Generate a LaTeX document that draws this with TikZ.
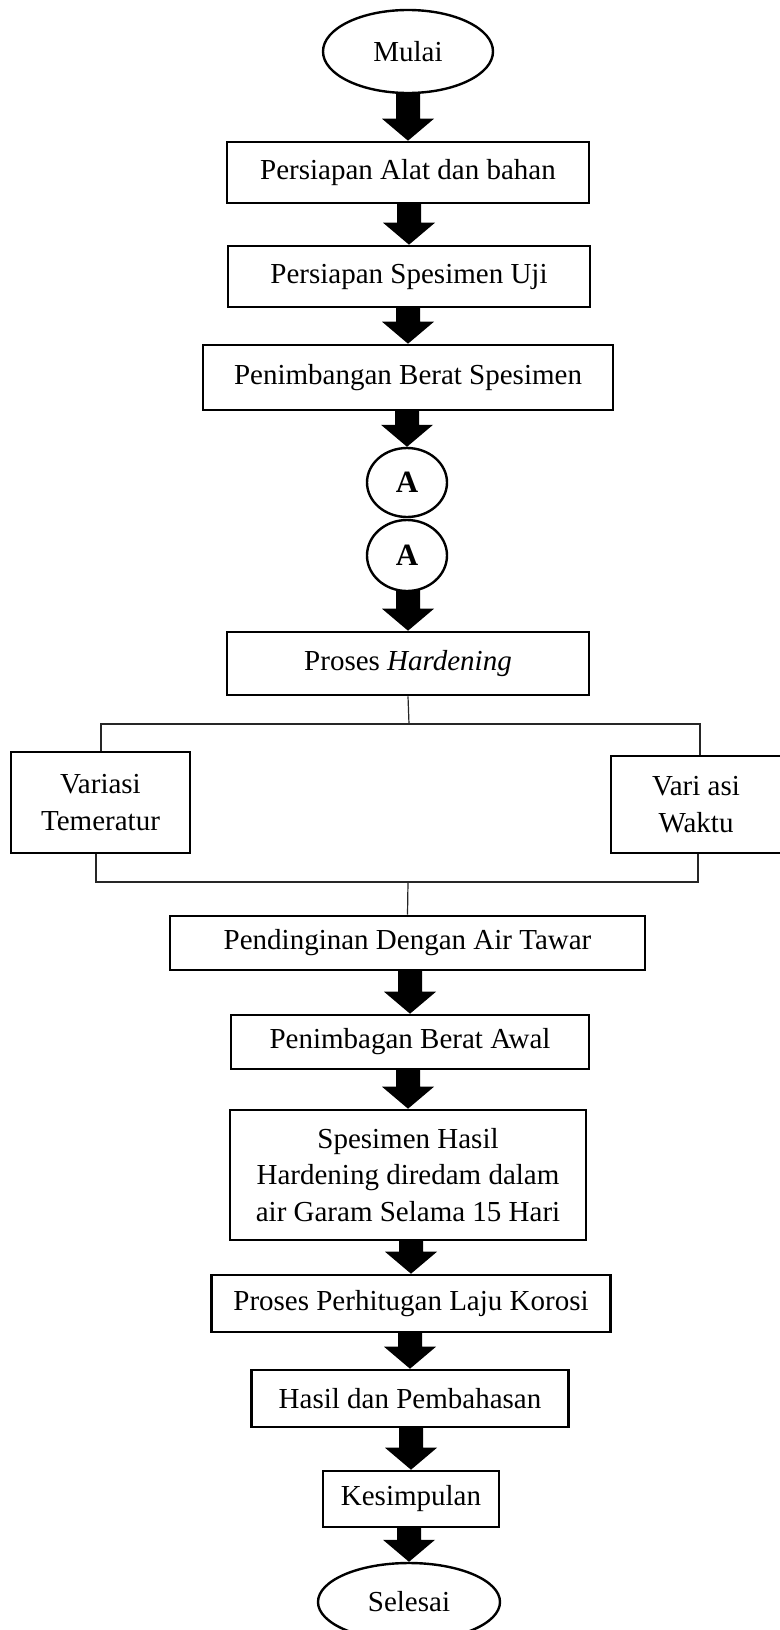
\documentclass[tikz,border=0pt]{standalone}
\usepackage{fontspec}
\setmainfont{Liberation Serif}
\usetikzlibrary{shapes.geometric,calc}
\tikzset{
  stepbox/.style={draw, line width=2.6pt, rectangle, inner sep=0pt, align=center},
  termnode/.style={draw, line width=2.4pt, ellipse, inner sep=0pt},
  connnode/.style={draw, line width=2.4pt, ellipse, inner sep=0pt, font=\fontsize{31}{34}\selectfont\bfseries},
  thinline/.style={line width=1.2pt, draw=black!85},
}
\newcommand{\blockarrow}[2]{%
  \fill ($(#2.north |- #1.south)+(-12,-2)$) -- ($(#2.north)+(-12,-22)$) -- ($(#2.north)+(-26,-22)$) -- (#2.north)
     -- ($(#2.north)+(26,-22)$) -- ($(#2.north)+(12,-22)$) -- ($(#2.north |- #1.south)+(12,-2)$) -- cycle;}
\begin{document}
\begin{tikzpicture}[x=1pt, y=-1pt, font=\fontsize{29}{36.4}\selectfont]
\useasboundingbox (0,0) rectangle (779,1630);
\node[termnode, minimum width=170pt, minimum height=83pt] (mulai) at (408,51.5) {Mulai};
\node[stepbox, minimum width=362pt, minimum height=61pt] (b1) at (408,172.5) {Persiapan Alat dan bahan};
\node[stepbox, minimum width=362pt, minimum height=61pt] (b2) at (409,276.5) {Persiapan Spesimen Uji};
\node[stepbox, minimum width=410pt, minimum height=65pt] (b3) at (408,377.5) {Penimbangan Berat Spesimen};
\node[connnode, minimum width=80pt, minimum height=69pt] (a1) at (407,482.5) {\raisebox{-5pt}{A}};
\node[connnode, minimum width=80pt, minimum height=71pt] (a2) at (407,555.5) {\raisebox{-5pt}{A}};
\node[stepbox, minimum width=362pt, minimum height=63pt] (hard) at (408,663.5) {Proses \textit{Hardening}};
\node[stepbox, minimum width=179pt, minimum height=101pt] (left) at (100.5,802.5) {Variasi\\Temeratur};
\node[stepbox, minimum width=170pt, minimum height=97pt] (right) at (696,804.5) {Vari asi\\Waktu};
\node[stepbox, minimum width=475pt, minimum height=54pt] (pend) at (407.5,943) {Pendinginan Dengan Air Tawar};
\node[stepbox, minimum width=358pt, minimum height=54pt] (pba) at (410,1042) {Penimbagan Berat Awal};
\node[stepbox, minimum width=356pt, minimum height=130pt] (spes) at (408,1175) {Spesimen Hasil\\Hardening diredam dalam\\air Garam Selama 15 Hari};
\node[stepbox, minimum width=399pt, minimum height=57pt] (proses) at (411,1303.5) {Proses Perhitugan Laju Korosi};
\node[stepbox, minimum width=317pt, minimum height=57pt] (hasil) at (410,1398.5) {Hasil dan Pembahasan};
\node[stepbox, minimum width=176pt, minimum height=56pt] (kes) at (411,1499) {Kesimpulan};
\node[termnode, minimum width=182pt, minimum height=78pt] (selesai) at (409,1602) {Selesai};
\blockarrow{mulai}{b1}
\blockarrow{b1}{b2}
\blockarrow{b2}{b3}
\blockarrow{b3}{a1}
\blockarrow{a2}{hard}
\blockarrow{pend}{pba}
\blockarrow{pba}{spes}
\blockarrow{spes}{proses}
\blockarrow{proses}{hasil}
\blockarrow{hasil}{kes}
\blockarrow{kes}{selesai}
\coordinate (jt) at (409,724);
\coordinate (tl) at (101,724);
\coordinate (tr) at (700,724);
\coordinate (bl) at (96,882);
\coordinate (br) at (698,882);
\coordinate (jb) at (408,882);
\draw[thinline] (hard.south) -- (jt);
\draw[thinline] (left.north -| tl) -- (tl) -- (tr) -- (right.north -| tr);
\draw[thinline] (left.south -| bl) -- (bl) -- (br) -- (right.south -| br);
\draw[thinline] (jb) -- (pend.north);
\end{tikzpicture}
\end{document}
